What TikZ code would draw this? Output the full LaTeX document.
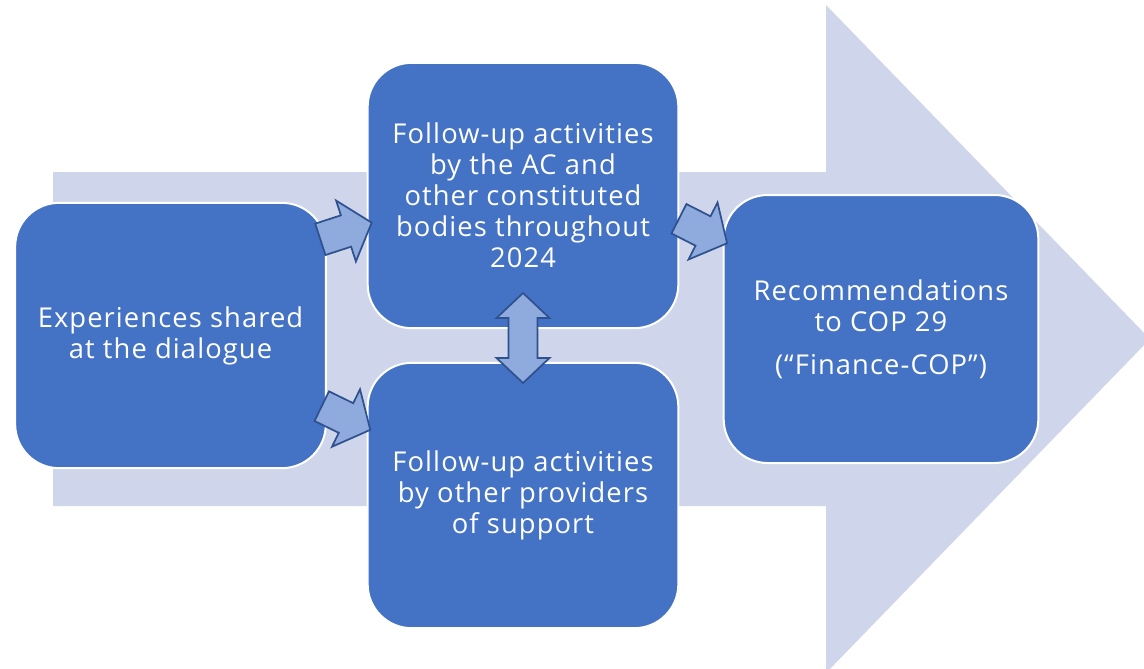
\documentclass[tikz,border=0pt]{standalone}
\usepackage{fontspec}
\setmainfont{Open Sans}[LetterSpace=4]
\usetikzlibrary{arrows.meta}

\definecolor{boxblue}{HTML}{4472C4}
\definecolor{bandgrey}{HTML}{CFD5EA}
\definecolor{arrfill}{HTML}{8FAADC}
\definecolor{arrline}{HTML}{2F528F}

\tikzset{
    stage/.style={draw=white, line width=1.5pt, fill=boxblue, rounded corners=33pt,
        minimum width=233pt, minimum height=199pt, text=white, align=center,
        font=\fontsize{20.5}{23.25}\selectfont},
    blockarr/.style={draw=arrline, fill=arrfill, line width=1.3pt, line join=miter},
}

% small block arrow: centre x, centre y, angle
\newcommand{\blockarrow}[3]{%
    \draw[blockarr, shift={(#1,#2)}, rotate=#3]
        (-27,-16.5) -- (0,-16.5) -- (0,-32) -- (27,0) -- (0,32) -- (0,16.5) -- (-27,16.5) -- cycle;
}

\begin{document}
\begin{tikzpicture}[x=0.75pt, y=-0.75pt]
        \useasboundingbox (0,0) rectangle (1144,668);

        % big arrow behind
        \begin{scope}
            \clip (0,0) rectangle (1144,668);
            \fill[bandgrey] (53,172) -- (826,172) -- (826,5) -- (1150,339)
                -- (826,673) -- (826,506) -- (53,506) -- cycle;
        \end{scope}

        \node[stage] (exp) at (170.5,335.5) {Experiences shared\\at the dialogue};
        \node[stage] (acwork) at (523,195.5) {Follow-up activities\\by the AC and\\other constituted\\bodies throughout\\2024};
        \node[stage] (provwork) at (523,495.5) {Follow-up activities\\by other providers\\of support};
        \node[stage, minimum width=236pt, minimum height=201pt] (cop) at (881,329)
            {Recommendations\\to COP 29\\[9pt](“Finance-COP”)};

        \blockarrow{346}{231}{18}
        \blockarrow{346}{418}{-26}
        \blockarrow{703}{231}{-27}

        % double arrow between the two middle boxes
        \draw[blockarr] (508.5,318) -- (496.5,318) -- (523,293) -- (549.5,318) -- (537.5,318)
            -- (537.5,358) -- (549.5,358) -- (523,383) -- (496.5,358) -- (508.5,358) -- cycle;
    \end{tikzpicture}
\end{document}
